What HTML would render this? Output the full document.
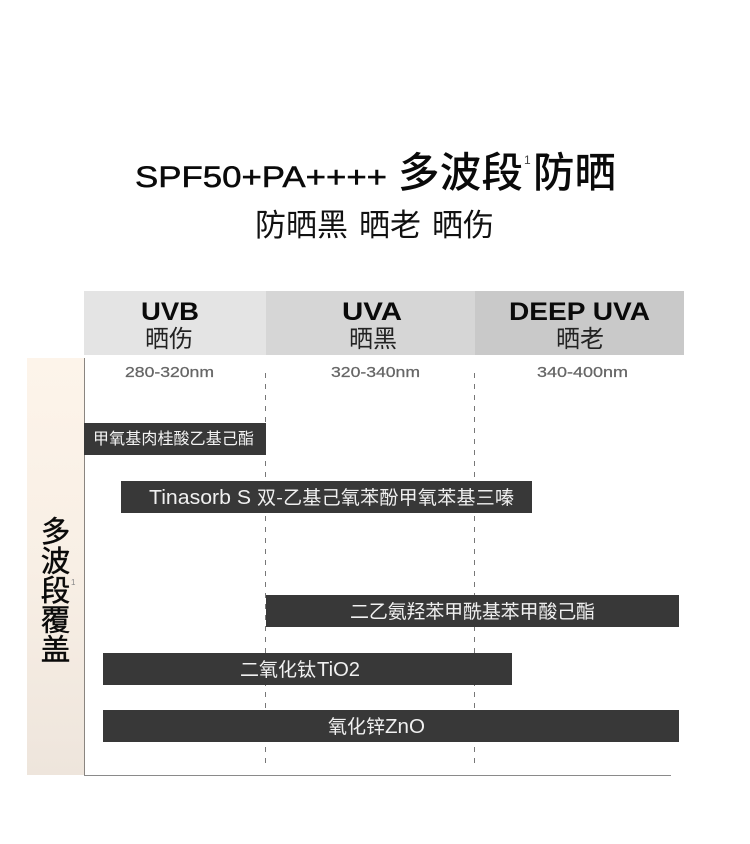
<!DOCTYPE html>
<html lang="zh">
<head>
<meta charset="utf-8">
<title>SPF50+PA++++ 多波段防晒</title>
<style>
html,body{margin:0;padding:0;background:#fff;width:750px;height:844px;overflow:hidden}
svg{display:block}
text{font-family:"Liberation Sans","Noto Sans CJK SC",sans-serif}
.cjk{font-family:"Noto Sans CJK SC","Liberation Sans",sans-serif}
</style>
</head>
<body>
<svg width="750" height="844" viewBox="0 0 750 844" xmlns="http://www.w3.org/2000/svg">
<defs>
<linearGradient id="g" x1="0" y1="0" x2="0" y2="1">
<stop offset="0" stop-color="#fdf4ea"/>
<stop offset="0.5" stop-color="#f8efe5"/>
<stop offset="1" stop-color="#eee5dc"/>
</linearGradient>
</defs>

<!-- title -->
<text x="135" y="187" font-size="30" fill="#0a0a0a" textLength="252" lengthAdjust="spacingAndGlyphs" stroke="#0a0a0a" stroke-width="0.5">SPF50+PA++++</text>
<text class="cjk" x="398" y="187" font-size="41.5" font-weight="500" fill="#0a0a0a" textLength="125">多波段</text>
<text x="524" y="164" font-size="12" fill="#444">1</text>
<text class="cjk" x="533" y="187" font-size="41.5" font-weight="500" fill="#0a0a0a" textLength="83">防晒</text>
<text class="cjk" x="255" y="236" font-size="31" font-weight="400" fill="#111">防晒黑</text>
<text class="cjk" x="359" y="236" font-size="31" font-weight="400" fill="#111">晒老</text>
<text class="cjk" x="432" y="236" font-size="31" font-weight="400" fill="#111">晒伤</text>

<!-- header -->
<rect x="84" y="291" width="182" height="64" fill="#e4e4e4"/>
<rect x="266" y="291" width="209" height="64" fill="#d6d6d6"/>
<rect x="475" y="291" width="209" height="64" fill="#c9c9c9"/>
<text x="141" y="320" font-size="25" font-weight="700" fill="#0a0a0a" textLength="58" lengthAdjust="spacingAndGlyphs">UVB</text>
<text x="342" y="320" font-size="25" font-weight="700" fill="#0a0a0a" textLength="60" lengthAdjust="spacingAndGlyphs">UVA</text>
<text x="509" y="320" font-size="25" font-weight="700" fill="#0a0a0a" textLength="141" lengthAdjust="spacingAndGlyphs">DEEP UVA</text>
<text class="cjk" x="145" y="347" font-size="24" font-weight="400" fill="#222">晒伤</text>
<text class="cjk" x="349" y="347" font-size="24" font-weight="400" fill="#222">晒黑</text>
<text class="cjk" x="556" y="347" font-size="24" font-weight="400" fill="#222">晒老</text>

<!-- wavelength labels -->
<text x="125" y="377" font-size="14.5" fill="#666" stroke="#666" stroke-width="0.25" textLength="89" lengthAdjust="spacingAndGlyphs">280-320nm</text>
<text x="331" y="377" font-size="14.5" fill="#666" stroke="#666" stroke-width="0.25" textLength="89" lengthAdjust="spacingAndGlyphs">320-340nm</text>
<text x="537" y="377" font-size="14.5" fill="#666" stroke="#666" stroke-width="0.25" textLength="91" lengthAdjust="spacingAndGlyphs">340-400nm</text>

<!-- left strip -->
<rect x="27" y="358" width="57" height="417" fill="url(#g)"/>
<g font-size="29.5" fill="#0a0a0a" text-anchor="middle" stroke="#0a0a0a" stroke-width="0.45">
<text class="cjk" x="55.5" y="542">多</text>
<text class="cjk" x="55.5" y="571.5">波</text>
<text class="cjk" x="55.5" y="601">段</text>
<text class="cjk" x="55.5" y="630.5">覆</text>
<text class="cjk" x="55.5" y="660">盖</text>
</g>
<text x="71" y="585" font-size="8" fill="#888">1</text>

<!-- axes -->
<line x1="84.5" y1="358" x2="84.5" y2="775" stroke="#8a8580" stroke-width="1"/>
<line x1="84" y1="775.5" x2="671" y2="775.5" stroke="#8a8a8a" stroke-width="1"/>

<!-- dashed -->
<line x1="265.5" y1="373" x2="265.5" y2="764" stroke="#777" stroke-width="1" stroke-dasharray="5 6"/>
<line x1="474.5" y1="373" x2="474.5" y2="764" stroke="#777" stroke-width="1" stroke-dasharray="5 6"/>

<!-- bars -->
<rect x="84" y="423" width="182" height="32" fill="#383838"/>
<rect x="121" y="481" width="411" height="32" fill="#383838"/>
<rect x="266" y="595" width="413" height="32" fill="#383838"/>
<rect x="103" y="653" width="409" height="32" fill="#383838"/>
<rect x="103" y="710" width="576" height="32" fill="#383838"/>

<text class="cjk" x="93" y="444" font-size="16" fill="#f4f4f4" textLength="161">甲氧基肉桂酸乙基己酯</text>
<text x="149" y="504" font-size="20" fill="#f0f0f0" textLength="102" lengthAdjust="spacingAndGlyphs">Tinasorb S</text>
<text class="cjk" x="257" y="504" font-size="19" fill="#f0f0f0" textLength="257">双-乙基己氧苯酚甲氧苯基三嗪</text>
<text class="cjk" x="350" y="618" font-size="19" fill="#f0f0f0" textLength="245">二乙氨羟苯甲酰基苯甲酸己酯</text>
<text class="cjk" x="240" y="676" font-size="19" fill="#f0f0f0" textLength="76">二氧化钛</text>
<text x="317" y="676" font-size="20" fill="#f0f0f0" textLength="43" lengthAdjust="spacingAndGlyphs">TiO2</text>
<text class="cjk" x="328" y="733" font-size="19" fill="#f0f0f0" textLength="57">氧化锌</text>
<text x="385" y="733" font-size="20" fill="#f0f0f0" textLength="40" lengthAdjust="spacingAndGlyphs">ZnO</text>
</svg>
</body>
</html>
